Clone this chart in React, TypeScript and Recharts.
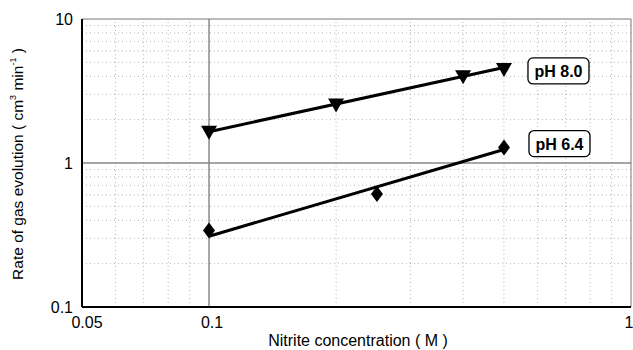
import { ScatterChart, Scatter, XAxis, YAxis, ReferenceLine, ReferenceDot } from "recharts";

const ph80 = [
  { x: 0.1, y: 1.65 },
  { x: 0.2, y: 2.55 },
  { x: 0.4, y: 4.0 },
  { x: 0.5, y: 4.5 },
];
const ph64 = [
  { x: 0.1, y: 0.34 },
  { x: 0.25, y: 0.61 },
  { x: 0.5, y: 1.28 },
];
const fit80 = [
  { x: 0.1, y: 1.65 },
  { x: 0.5, y: 4.6 },
];
const fit64 = [
  { x: 0.1, y: 0.31 },
  { x: 0.5, y: 1.24 },
];
const xTicks = [0.05, 0.1, 1];
const yTicks = [0.1, 1, 10];
const xMinor = [0.06, 0.07, 0.08, 0.09, 0.2, 0.3, 0.4, 0.5, 0.6, 0.7, 0.8, 0.9];
const yMinor = [0.2, 0.3, 0.4, 0.5, 0.6, 0.7, 0.8, 0.9, 2, 3, 4, 5, 6, 7, 8, 9];

const font = "'Liberation Sans', Arial, sans-serif";

const DownTriangle = (p: any) => (
  <polygon
    points={`${p.cx - 8},${p.cy - 6} ${p.cx + 8},${p.cy - 6} ${p.cx},${p.cy + 8}`}
    fill="#000"
  />
);

const Diamond = (p: any) => (
  <polygon
    points={`${p.cx},${p.cy - 8} ${p.cx + 6},${p.cy} ${p.cx},${p.cy + 8} ${p.cx - 6},${p.cy}`}
    fill="#000"
  />
);

const NoDot = () => null;

const tagBox = (text: string, dx: number, dy: number) => (p: any) => (
  <g>
    <rect
      x={p.cx + dx - 30}
      y={p.cy + dy - 13}
      width={61}
      height={26}
      rx={5}
      fill="#fff"
      stroke="#000"
      strokeWidth={1.3}
    />
    <text
      x={p.cx + dx + 0.5}
      y={p.cy + dy + 6}
      textAnchor="middle"
      fontFamily={font}
      fontWeight="bold"
      fontSize={16}
      fill="#000"
    >
      {text}
    </text>
  </g>
);

const XTick = (p: any) => {
  const v = p.payload.value;
  const shift = v === 0.05 ? 5 : v === 0.1 ? 3 : 0;
  return (
    <text x={p.x + shift} y={p.y + 13} textAnchor="middle" fontFamily={font} fontSize={16} fill="#000">
      {String(v)}
    </text>
  );
};

export default function App() {
  return (
    <div style={{ position: "absolute", left: 0, top: 0, width: 633, height: 350, background: "#fff" }}>
      <ScatterChart width={633} height={350} margin={{ top: 19, right: 2, bottom: 0, left: 0 }}>
        <XAxis
          type="number"
          dataKey="x"
          scale="log"
          domain={[0.05, 1]}
          ticks={xTicks}
          allowDataOverflow
          height={43}
          tickLine={false}
          tick={<XTick />}
          axisLine={{ stroke: "#000", strokeWidth: 2 }}
        />
        <YAxis
          type="number"
          dataKey="y"
          scale="log"
          domain={[0.1, 10]}
          ticks={yTicks}
          allowDataOverflow
          width={82}
          tickSize={0}
          tickMargin={9}
          tick={{ fill: "#000", fontSize: 16, fontFamily: font }}
          axisLine={{ stroke: "#000", strokeWidth: 2 }}
        />
        {xMinor.map((v) => (
          <ReferenceLine key={"x" + v} x={v} stroke="#b5b5b5" strokeDasharray="1 3" />
        ))}
        {yMinor.map((v) => (
          <ReferenceLine key={"y" + v} y={v} stroke="#b5b5b5" strokeDasharray="1 3" />
        ))}
        <ReferenceLine x={0.1} stroke="#888" strokeWidth={1.5} />
        <ReferenceLine y={1} stroke="#888" strokeWidth={1.5} />
        <ReferenceLine y={10} stroke="#777" strokeWidth={1} />
        <ReferenceLine x={1} stroke="#777" strokeWidth={1} />
        <Scatter data={fit80} line={{ stroke: "#000", strokeWidth: 3 }} shape={NoDot} isAnimationActive={false} />
        <Scatter data={fit64} line={{ stroke: "#000", strokeWidth: 3 }} shape={NoDot} isAnimationActive={false} />
        <Scatter data={ph80} shape={DownTriangle} isAnimationActive={false} />
        <Scatter data={ph64} shape={Diamond} isAnimationActive={false} />
        <ReferenceDot
          x={ph80[ph80.length - 1].x}
          y={ph80[ph80.length - 1].y}
          shape={tagBox("pH 8.0", 54, 2)}
        />
        <ReferenceDot
          x={ph64[ph64.length - 1].x}
          y={ph64[ph64.length - 1].y}
          shape={tagBox("pH 6.4", 55, -4)}
        />
      </ScatterChart>
      <svg
        width={633}
        height={350}
        style={{ position: "absolute", left: 0, top: 0, pointerEvents: "none" }}
      >
        <text
          transform="translate(23,164) rotate(-90)"
          textAnchor="middle"
          fontFamily={font}
          fontSize={15.5}
          fill="#000"
        >
          Rate of gas evolution ( cm
          <tspan fontSize={9} dy={-7}>3</tspan>
          <tspan dy={7}> min</tspan>
          <tspan fontSize={9} dy={-7}>-1</tspan>
          <tspan dy={7}> )</tspan>
        </text>
        <text x={358} y={346} textAnchor="middle" fontFamily={font} fontSize={16} fill="#000">
          Nitrite concentration ( M )
        </text>
      </svg>
    </div>
  );
}
